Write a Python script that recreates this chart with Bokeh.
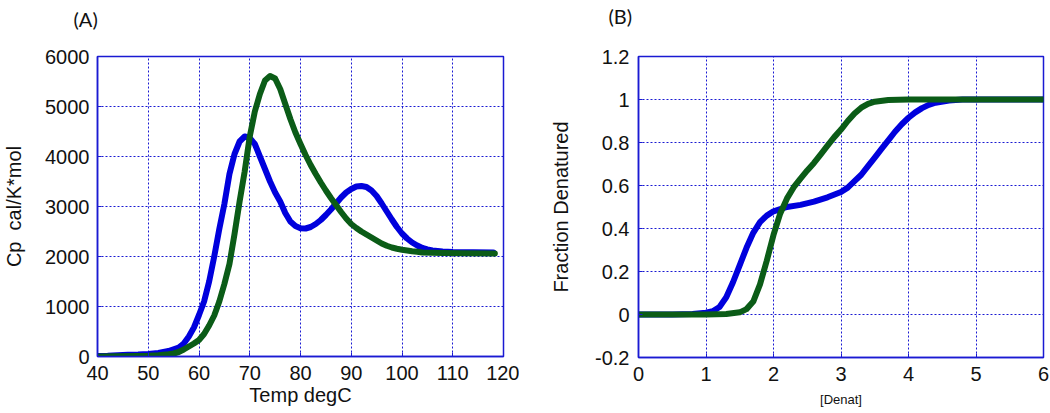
from bokeh.plotting import figure
from bokeh.layouts import row
from bokeh.models import FixedTicker
from bokeh.embed import file_html
from bokeh.resources import INLINE

# ---------------- Data: panel (A) DSC ----------------
temp_blue = [40, 42, 44, 46, 48, 50, 52, 54, 56, 57, 58, 59, 60, 61, 62, 63, 64, 65, 66, 67, 68, 69, 70,
             71, 72, 73, 74, 75, 76, 77, 78, 79, 80, 81, 82, 83, 84, 85, 86, 87, 88, 89, 90, 91, 92, 93,
             94, 95, 96, 97, 98, 99, 100, 101, 102, 103, 104, 105, 106, 108, 110, 114, 118]
cp_blue = [10, 15, 25, 35, 40, 50, 70, 110, 180, 260, 400, 580, 830, 1100, 1500, 2000, 2550, 3050, 3650,
           4050, 4300, 4400, 4370, 4250, 4000, 3750, 3500, 3280, 3100, 2870, 2700, 2610, 2565, 2560,
           2590, 2650, 2730, 2830, 2940, 3060, 3180, 3280, 3350, 3400, 3410, 3390, 3320, 3210, 3060,
           2900, 2740, 2590, 2460, 2360, 2280, 2220, 2170, 2140, 2120, 2100, 2090, 2085, 2080]

temp_green = [40, 44, 48, 50, 52, 54, 55, 56, 57, 58, 59, 60, 61, 62, 63, 64, 65, 66, 67, 68, 69, 70, 71,
              72, 73, 74, 75, 76, 77, 78, 79, 80, 81, 82, 83, 84, 85, 86, 87, 88, 89, 90, 91, 92, 93,
              94, 95, 96, 97, 98, 99, 100, 102, 103, 104, 108, 112, 118.3]
cp_green = [0, 5, 10, 15, 25, 45, 60, 90, 140, 200, 260, 330, 450, 620, 820, 1100, 1450, 1850, 2450,
            3100, 3700, 4400, 4900, 5250, 5520, 5610, 5560, 5350, 5050, 4750, 4480, 4250, 4030, 3830,
            3650, 3480, 3320, 3170, 3030, 2890, 2760, 2650, 2570, 2500, 2440, 2380, 2320, 2260, 2215,
            2180, 2155, 2135, 2105, 2095, 2080, 2070, 2065, 2060]

# ---------------- Data: panel (B) denaturation ----------------
den_blue = [0, 0.5, 0.8, 1.0, 1.1, 1.2, 1.3, 1.4, 1.5, 1.6, 1.7, 1.8, 1.9, 2.0, 2.1, 2.2, 2.4, 2.6, 2.8,
            3.0, 3.1, 3.2, 3.3, 3.4, 3.5, 3.6, 3.7, 3.8, 3.9, 4.0, 4.1, 4.2, 4.3, 4.4, 4.6, 4.8, 6.0]
frac_blue = [0, 0, 0.002, 0.008, 0.015, 0.035, 0.08, 0.15, 0.23, 0.31, 0.38, 0.43, 0.46, 0.48, 0.49,
             0.50, 0.51, 0.525, 0.545, 0.57, 0.59, 0.62, 0.65, 0.69, 0.73, 0.77, 0.81, 0.85, 0.885,
             0.915, 0.94, 0.96, 0.975, 0.985, 0.995, 1.0, 1.0]

den_green = [0, 1.0, 1.3, 1.5, 1.6, 1.7, 1.8, 1.9, 2.0, 2.1, 2.2, 2.3, 2.4, 2.5, 2.6, 2.7, 2.8, 2.9,
             3.0, 3.1, 3.2, 3.3, 3.4, 3.5, 3.7, 4.0, 6.0]
frac_green = [0, 0, 0.002, 0.01, 0.025, 0.06, 0.14, 0.25, 0.37, 0.47, 0.54, 0.592, 0.632, 0.67, 0.705,
              0.745, 0.785, 0.825, 0.86, 0.90, 0.935, 0.962, 0.98, 0.99, 0.998, 1.0, 1.0]

# ---------------- Ticks ----------------
a_xticks = [40, 50, 60, 70, 80, 90, 100, 110, 120]
a_xlabels = ["40", "50", "60", "70", "80", "90", "100", "110", "120"]
a_yticks = [0, 1000, 2000, 3000, 4000, 5000, 6000]
a_ylabels = ["0", "1000", "2000", "3000", "4000", "5000", "6000"]
b_xticks = [0, 1, 2, 3, 4, 5, 6]
b_xlabels = ["0", "1", "2", "3", "4", "5", "6"]
b_yticks = [-0.2, 0, 0.2, 0.4, 0.6, 0.8, 1, 1.2]
b_ylabels = ["-0.2", "0", "0.2", "0.4", "0.6", "0.8", "1", "1.2"]

BLUE_LINE = "#0000dd"
GREEN_LINE = "#0b5c17"
FRAME_BLUE = "#1a1ad2"
FONT = "Liberation Sans"


def style(p, xt, xl, yt, yl, pad_bottom):
    p.xaxis.ticker = FixedTicker(ticks=xt)
    p.yaxis.ticker = FixedTicker(ticks=yt)
    p.xaxis.major_label_overrides = dict(zip(xt, xl))
    p.yaxis.major_label_overrides = dict(zip(yt, yl))
    for ax in p.axis:
        ax.axis_line_color = FRAME_BLUE
        ax.axis_line_width = 1.5
        ax.major_tick_line_color = FRAME_BLUE
        ax.major_tick_in = 4
        ax.major_tick_out = 0
        ax.minor_tick_line_color = None
        ax.major_label_text_font = FONT
        ax.major_label_text_font_size = "20px"
        ax.major_label_text_color = "#111111"
        ax.axis_label_text_font = FONT
        ax.axis_label_text_font_style = "normal"
        ax.axis_label_text_color = "#111111"
    p.xaxis.major_label_standoff = 9
    p.xgrid.ticker = FixedTicker(ticks=xt)
    p.ygrid.ticker = FixedTicker(ticks=yt)
    p.grid.grid_line_color = FRAME_BLUE
    p.grid.grid_line_dash = "2 2"
    p.grid.grid_line_width = 1
    p.outline_line_color = FRAME_BLUE
    p.outline_line_width = 1.5
    p.background_fill_color = "white"
    p.border_fill_color = "white"
    p.title.text_font = "Lato"
    p.title.text_font_size = "20px"
    p.title.text_font_style = "normal"
    p.title.text_color = "#111111"
    p.title.align = "left"
    p.title.standoff = 0
    try:
        p.title.padding = dict(left=0, right=0, top=0, bottom=pad_bottom)
    except Exception:
        p.title.standoff = 9


# ---------------- Panel A ----------------
pa = figure(output_backend="svg", toolbar_location=None, title="(A)",
            frame_width=406, frame_height=300,
            min_border_left=96, min_border_right=16, min_border_top=53, min_border_bottom=55,
            x_range=(40, 120), y_range=(0, 6000))
style(pa, a_xticks, a_xlabels, a_yticks, a_ylabels, 26)
pa.title.offset = -24
pa.xaxis.axis_label = "Temp degC"
pa.yaxis.axis_label = "Cp \u00a0cal/K*mol"
pa.xaxis.axis_label_text_font_size = "20px"
pa.yaxis.axis_label_text_font_size = "20px"
pa.xaxis.axis_label_standoff = 1
pa.yaxis.major_label_standoff = 8
pa.yaxis.axis_label_standoff = 17
pa.line(temp_blue, cp_blue, line_color=BLUE_LINE, line_width=6, line_join="round", line_cap="round")
pa.line(temp_green, cp_green, line_color=GREEN_LINE, line_width=6, line_join="round", line_cap="round")

# ---------------- Panel B ----------------
pb = figure(output_backend="svg", toolbar_location=None, title="(B)",
            frame_width=405, frame_height=301,
            min_border_left=119, min_border_right=6, min_border_top=56, min_border_bottom=52,
            x_range=(0, 6), y_range=(-0.2, 1.2))
style(pb, b_xticks, b_xlabels, b_yticks, b_ylabels, 29)
pb.title.offset = -30
pb.xaxis.axis_label = "[Denat]"
pb.yaxis.axis_label = "Fraction Denatured"
pb.xaxis.axis_label_text_font_size = "13px"
pb.yaxis.axis_label_text_font_size = "20px"
pb.xaxis.axis_label_standoff = 8
pb.yaxis.major_label_standoff = 9
pb.yaxis.axis_label_standoff = 20
pb.line(den_blue, frac_blue, line_color=BLUE_LINE, line_width=6, line_join="round", line_cap="round")
pb.line(den_green, frac_green, line_color=GREEN_LINE, line_width=6, line_join="round", line_cap="round")

layout = row(pa, pb)
open("out.html", "w").write(file_html(layout, INLINE))
